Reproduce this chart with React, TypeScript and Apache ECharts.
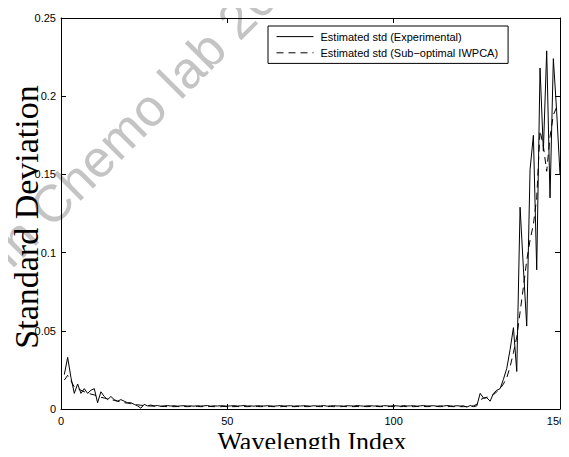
import React, { useEffect, useRef } from "react";
import * as echarts from "echarts";

// Wavelength index 1..150
const experimental: number[] = [
  0.022, 0.033, 0.020, 0.010, 0.016, 0.010, 0.013, 0.010, 0.012, 0.013,
  0.004, 0.011, 0.008, 0.006, 0.008, 0.006, 0.005, 0.006, 0.005, 0.004,
  0.004, 0.003, 0.002, 0.0005, 0.003, 0.002, 0.0025, 0.002, 0.0022, 0.0018,
  0.002, 0.0022, 0.0019, 0.0021, 0.0018, 0.002, 0.0021, 0.0019, 0.002, 0.0018,
  0.0021, 0.0019, 0.002, 0.0022, 0.0018, 0.002, 0.0019, 0.0021, 0.002, 0.0018,
  0.002, 0.0021, 0.0019, 0.002, 0.0022, 0.0019, 0.002, 0.0018, 0.0021, 0.002,
  0.0019, 0.0021, 0.002, 0.0018, 0.002, 0.0022, 0.0019, 0.002, 0.0021, 0.0018,
  0.002, 0.0019, 0.0021, 0.002, 0.0018, 0.0021, 0.0019, 0.002, 0.0022, 0.0018,
  0.002, 0.0021, 0.0019, 0.002, 0.0018, 0.0021, 0.002, 0.0019, 0.0022, 0.002,
  0.0018, 0.002, 0.0021, 0.0019, 0.002, 0.0018, 0.0021, 0.002, 0.0019, 0.0021,
  0.002, 0.0018, 0.0022, 0.0019, 0.002, 0.0021, 0.0018, 0.002, 0.0022, 0.0019,
  0.002, 0.0021, 0.0018, 0.002, 0.0019, 0.0022, 0.002, 0.0018, 0.0021, 0.0019,
  0.002, 0.0012, 0.0022, 0.0015, 0.002, 0.010, 0.007, 0.0072, 0.005, 0.010,
  0.012, 0.013, 0.019, 0.026, 0.038, 0.052, 0.024, 0.129, 0.090, 0.053,
  0.153, 0.175, 0.089, 0.218, 0.165, 0.229, 0.135, 0.224, 0.190, 0.150,
];

const iwpca: number[] = [
  0.0185, 0.0215, 0.018, 0.014, 0.013, 0.012, 0.011, 0.0105, 0.0095, 0.009,
  0.008, 0.0075, 0.007, 0.0065, 0.006, 0.0055, 0.005, 0.0045, 0.004, 0.0038,
  0.0034, 0.003, 0.0027, 0.0024, 0.0022, 0.002, 0.0019, 0.0018, 0.0017, 0.0016,
  0.0016, 0.0015, 0.0016, 0.0015, 0.0016, 0.0015, 0.0016, 0.0015, 0.0016, 0.0015,
  0.0016, 0.0015, 0.0016, 0.0015, 0.0016, 0.0015, 0.0016, 0.0015, 0.0016, 0.0015,
  0.0016, 0.0015, 0.0016, 0.0015, 0.0016, 0.0015, 0.0016, 0.0015, 0.0016, 0.0015,
  0.0016, 0.0015, 0.0016, 0.0015, 0.0016, 0.0015, 0.0016, 0.0015, 0.0016, 0.0015,
  0.0016, 0.0015, 0.0016, 0.0015, 0.0016, 0.0015, 0.0016, 0.0015, 0.0016, 0.0015,
  0.0016, 0.0015, 0.0016, 0.0015, 0.0016, 0.0015, 0.0016, 0.0015, 0.0016, 0.0015,
  0.0016, 0.0015, 0.0016, 0.0015, 0.0016, 0.0015, 0.0016, 0.0015, 0.0016, 0.0015,
  0.0016, 0.0015, 0.0016, 0.0015, 0.0016, 0.0015, 0.0016, 0.0015, 0.0016, 0.0015,
  0.0016, 0.0015, 0.0016, 0.0015, 0.0016, 0.0015, 0.0016, 0.0015, 0.0016, 0.0015,
  0.0015, 0.0016, 0.0017, 0.002, 0.003, 0.006, 0.0068, 0.0075, 0.008, 0.0092,
  0.011, 0.013, 0.016, 0.020, 0.027, 0.036, 0.046, 0.062, 0.078, 0.095,
  0.108, 0.118, 0.135, 0.178, 0.168, 0.152, 0.174, 0.188, 0.193, 0.192,
];

const xTicks = [0, 50, 100, 150];
const yTicks = [0, 0.05, 0.1, 0.15, 0.2, 0.25];
const seriesNames = ["Estimated std (Experimental)", "Estimated std (Sub\u2212optimal IWPCA)"];
const xTitle = "Wavelength Index";
const yTitle = "Standard Deviation";
const watermark = "In Chemo lab 20";

export default function App() {
  const ref = useRef<HTMLDivElement>(null);
  useEffect(() => {
    if (!ref.current) return;
    const chart = echarts.init(ref.current, undefined, { renderer: "svg" });
    const pairs = (arr: number[]) => arr.map((v, i) => [i + 1, v]);
    const sans = "Liberation Sans, Arial, Helvetica, sans-serif";
    const serif = "Liberation Serif, Times New Roman, serif";
    const xMax = xTicks[xTicks.length - 1];
    const axisCommon = {
      axisLine: { show: true, onZero: false, lineStyle: { color: "#000", width: 1 } },
      axisTick: { show: true, inside: true, length: 5, lineStyle: { color: "#000" } },
      splitLine: { show: false },
    };
    chart.setOption({
      animation: false,
      backgroundColor: "#fff",
      grid: { left: 61, right: 9, top: 18, bottom: 48, containLabel: false, outerBoundsMode: "none" },
      graphic: [
        {
          type: "text",
          z: -10,
          silent: true,
          x: -2,
          y: 258,
          rotation: Math.PI / 4,
          style: {
            text: watermark,
            fontSize: 52,
            fontFamily: sans,
            fill: "#c4c4c4",
            textAlign: "left",
            textVerticalAlign: "middle",
          },
        },
        {
          type: "text",
          z: 10,
          silent: true,
          x: 26,
          y: 217,
          rotation: Math.PI / 2,
          style: {
            text: yTitle,
            fontSize: 34,
            fontFamily: serif,
            fill: "#000",
            textAlign: "center",
            textVerticalAlign: "middle",
          },
        },
        {
          type: "text",
          z: 10,
          silent: true,
          x: 312,
          y: 441,
          style: {
            text: xTitle,
            fontSize: 26,
            lineHeight: 26,
            fontFamily: serif,
            fill: "#000",
            textAlign: "center",
            textVerticalAlign: "middle",
          },
        },
      ],
      legend: {
        orient: "vertical",
        left: 268,
        top: 26,
        itemWidth: 37,
        itemHeight: 14,
        itemGap: 5,
        padding: [5, 10, 5, 8],
        borderColor: "#000",
        borderWidth: 1,
        borderRadius: 0,
        backgroundColor: "#fff",
        itemStyle: { opacity: 0 },
        lineStyle: { width: 1 },
        textStyle: { fontSize: 11, fontFamily: sans, color: "#000", padding: [0, 0, 0, 2] },
        data: seriesNames,
      },
      xAxis: [
        {
          type: "value",
          min: xTicks[0],
          max: xMax,
          interval: xTicks[1] - xTicks[0],
          position: "bottom",
          ...axisCommon,
          axisLabel: {
            color: "#000",
            fontSize: 11,
            fontFamily: sans,
            margin: 6,
            formatter: (v: number) => (v === xMax ? `{r|${v}}` : `${v}`),
            rich: { r: { fontSize: 11, fontFamily: sans, color: "#000", padding: [0, 8, 0, 0] } },
          },
        },
        {
          type: "value",
          min: xTicks[0],
          max: xMax,
          interval: xTicks[1] - xTicks[0],
          position: "top",
          ...axisCommon,
          axisLabel: { show: false },
        },
      ],
      yAxis: [
        {
          type: "value",
          min: yTicks[0],
          max: yTicks[yTicks.length - 1],
          interval: yTicks[1] - yTicks[0],
          position: "left",
          ...axisCommon,
          axisLabel: { color: "#000", fontSize: 11, fontFamily: sans, margin: 5 },
        },
        {
          type: "value",
          min: yTicks[0],
          max: yTicks[yTicks.length - 1],
          interval: yTicks[1] - yTicks[0],
          position: "right",
          ...axisCommon,
          axisLabel: { show: false },
        },
      ],
      series: [
        {
          name: seriesNames[0],
          type: "line",
          data: pairs(experimental),
          symbol: "none",
          lineStyle: { color: "#000", width: 1, type: "solid" },
          itemStyle: { color: "#000" },
          z: 3,
        },
        {
          name: seriesNames[1],
          type: "line",
          data: pairs(iwpca),
          symbol: "none",
          lineStyle: { color: "#000", width: 1, type: [7, 5] },
          itemStyle: { color: "#000" },
          z: 2,
        },
      ],
    });
    return () => chart.dispose();
  }, []);
  return <div ref={ref} style={{ width: 569, height: 457, margin: -8 }} />;
}
